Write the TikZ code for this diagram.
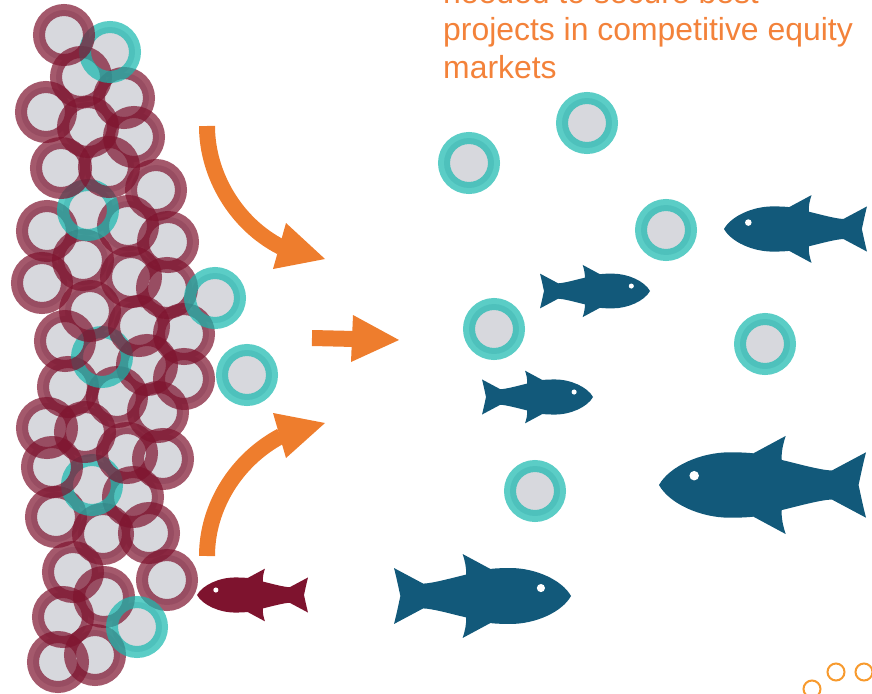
\documentclass[tikz,border=0pt]{standalone}
\usepackage{fontspec}
\setmainfont{Liberation Sans}
\definecolor{ringred}{HTML}{7E132E}
\definecolor{ringteal}{HTML}{15B8AE}
\definecolor{discgray}{HTML}{D7D8DD}
\definecolor{fishblue}{HTML}{12597A}
\definecolor{arroworange}{HTML}{EE7D2D}
\definecolor{textorange}{HTML}{F3823A}
\definecolor{bubble}{HTML}{F79A2E}
\newcommand\fishat[5]{%
 \begin{scope}[shift={(#1,#2)},xscale=#3*#4,yscale=#3]
 \fill[#5] (0,0) .. controls (.05,-.09) and (.2,-.158) .. (.342,-.158)
   .. controls (.38,-.158) and (.42,-.157) .. (.456,-.153) -- (.612,-.237)
   .. controls (.6,-.2) and (.59,-.16) .. (.593,-.121)
   .. controls (.68,-.1) and (.78,-.072) .. (.835,-.07) -- (1,-.158)
   .. controls (.985,-.1) and (.975,-.05) .. (.964,0)
   .. controls (.975,.05) and (.985,.1) .. (1,.158) -- (.835,.07)
   .. controls (.78,.072) and (.68,.1) .. (.593,.121)
   .. controls (.59,.16) and (.6,.2) .. (.612,.237) -- (.456,.153)
   .. controls (.42,.157) and (.38,.158) .. (.342,.158)
   .. controls (.2,.158) and (.05,.09) .. (0,0) -- cycle;
 \fill[white] (.17,-.045) circle[radius=.023];
 \end{scope}}
\begin{document}
\begin{tikzpicture}[x=1pt,y=-1pt,
  disc/.style={fill=discgray},
  redring/.style={draw=ringred,draw opacity=.7,line width=12pt},
  tealring/.style={draw=ringteal,draw opacity=.7,line width=12pt},
  arrowbody/.style={draw=arroworange,line width=16pt},
  arrowtip/.style={fill=arroworange},
  caption/.style={anchor=base west,inner sep=0pt,text=textorange,font=\fontsize{31.9}{36}\selectfont},
  bubblering/.style={draw=bubble,line width=2pt}]
\useasboundingbox (0,0) rectangle (872,693);
\clip (0,0) rectangle (872,693);
% grey discs
\foreach \x/\y in {64/35,110/52,81/77,124/98,46/112,88/127,134/137,61/168,109/167,156/190,88/210,47/231,128/226,168/242,83/260,42/283,131/277,167/288,215/298,90/311,139/326,184/334,65/341,102/357,247/375,184/379,68/387,117/397,147/365,158/412,47/428,85/432,127/453,163/459,52/467,92/485,133/497,56/517,103/534,149/533,73/572,167/580,104/597,63/617,137/627,95/655,58/662,469/163,587/123,666/230,494/329,765/344,535/491}
  \fill[disc] (\x,\y) circle[radius=25];
% rings, lowest on the page first
\foreach \x/\y/\k in {58/662/redring,95/655/redring,63/617/redring,104/597/redring,167/580/redring,73/572/redring,103/534/redring,149/533/redring,56/517/redring,133/497/redring,92/485/tealring,52/467/redring,163/459/redring,127/453/redring,85/432/redring,47/428/redring,158/412/redring,117/397/redring,68/387/redring,184/379/redring,147/365/redring,102/357/tealring,65/341/redring,184/334/redring,139/326/redring,90/311/redring,167/288/redring,42/283/redring,131/277/redring,83/260/redring,168/242/redring,47/231/redring,128/226/redring,88/210/tealring,156/190/redring,61/168/redring,109/167/redring,134/137/redring,88/127/redring,46/112/redring,124/98/redring,81/77/redring,110/52/tealring,64/35/redring}
  \draw[\k] (\x,\y) circle[radius=25];
\foreach \x/\y in {215/298,247/375,137/627,469/163,587/123,666/230,494/329,765/344,535/491}
  \draw[tealring] (\x,\y) circle[radius=25];
% arrows
\coordinate (upS) at (207,126);
\coordinate (upE) at (281,247);
\draw[arrowbody] (upS) .. controls (207,175) and (236,224) .. (upE);
\fill[arrowtip] (286,223) -- (325,259) -- (273,269) -- cycle;
\coordinate (midS) at (312,338);
\coordinate (midE) at (355,339);
\draw[arrowbody] (midS) -- (midE);
\fill[arrowtip] (353,315) -- (399,340) -- (351,362) -- cycle;
\coordinate (loS) at (207,556);
\coordinate (loE) at (281,436);
\draw[arrowbody] (loS) .. controls (207,507) and (236,460) .. (loE);
\fill[arrowtip] (273,413) -- (325,423) -- (286,458) -- cycle;
% fish
\fishat{659}{485}{207}{1}{fishblue}
\fishat{724}{229}{143}{1}{fishblue}
\fishat{650}{291}{110}{-1}{fishblue}
\fishat{593}{397}{111}{-1}{fishblue}
\fishat{571}{596}{177}{-1}{fishblue}
\fishat{197}{595}{111}{1}{ringred}
% text
\node[caption] (line1) at (443,4) {needed to secure best};
\node[caption] (line2) at (443,41) {projects in competitive equity};
\node[caption] (line3) at (443,78) {markets};
% bubbles
\draw[bubblering] (836,672) circle[radius=8.5];
\draw[bubblering] (864,672) circle[radius=8.5];
\draw[bubblering] (812,689) circle[radius=8.5];
\end{tikzpicture}
\end{document}
